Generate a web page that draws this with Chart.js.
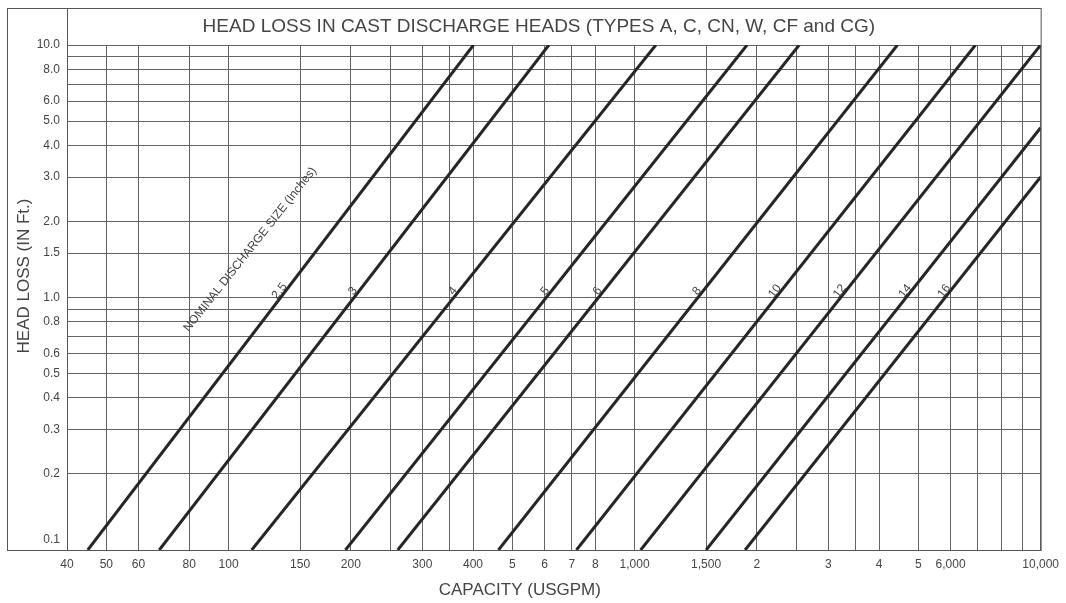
<!DOCTYPE html>
<html>
<head>
<meta charset="utf-8">
<script src="https://cdn.jsdelivr.net/npm/chart.js@4.4.1/dist/chart.umd.min.js"></script>
<style>
  html, body { margin: 0; padding: 0; background: #ffffff; }
  #wrap { width: 1066px; height: 603px; position: relative; }
</style>
</head>
<body>
<div id="wrap"><canvas id="c" width="1066" height="603"></canvas></div>
<script>
// ---- Data ----
const chartTitle = 'HEAD LOSS IN CAST DISCHARGE HEADS (TYPES A, C, CN, W, CF and CG)';
const xTitle = 'CAPACITY (USGPM)';
const yTitle = 'HEAD LOSS (IN Ft.)';
const sizeNote = 'NOMINAL DISCHARGE SIZE (Inches)';

// nominal discharge sizes (inches)
const sizes = ['2.5', '3', '4', '5', '6', '8', '10', '12', '14', '16'];
// start point of each curve (capacity USGPM, head loss ft)
const capStart  = [45, 67.5, 114, 194, 261, 462, 719, 1035, 1500, 1871];
const headStart = [0.1, 0.1, 0.1, 0.1, 0.1, 0.1, 0.1, 0.1, 0.1, 0.1];
// end point of each curve
const capEnd    = [401, 615, 1128, 1892, 2543, 4439, 6909, 10000, 10000, 10000];
const headEnd   = [10, 10, 10, 10, 10, 10, 10, 10, 4.7, 3.0];

// axis grid values and tick labels
const xGridValues = [40, 50, 60, 80, 100, 150, 200, 250, 300, 350, 400, 500, 600, 700, 800,
                     1000, 1500, 2000, 2500, 3000, 3500, 4000, 5000, 6000, 7000, 8000, 9000, 10000];
const xTickValues = [40, 50, 60, 80, 100, 150, 200, 300, 400, 500, 600, 700, 800,
                     1000, 1500, 2000, 3000, 4000, 5000, 6000, 10000];
const xTickLabels = ['40', '50', '60', '80', '100', '150', '200', '300', '400', '5', '6', '7', '8',
                     '1,000', '1,500', '2', '3', '4', '5', '6,000', '10,000'];
const yGridValues = [0.1, 0.2, 0.3, 0.4, 0.5, 0.6, 0.7, 0.8, 0.9, 1.0, 1.5, 2, 3, 4, 5, 6, 7, 8, 9, 10];
const yTickValues = [0.1, 0.2, 0.3, 0.4, 0.5, 0.6, 0.8, 1.0, 1.5, 2, 3, 4, 5, 6, 8, 10];
const yTickLabels = ['0.1', '0.2', '0.3', '0.4', '0.5', '0.6', '0.8', '1.0', '1.5', '2.0', '3.0', '4.0', '5.0', '6.0', '8.0', '10.0'];

// ---- Chart ----
const FONT = '"Liberation Sans", Arial, sans-serif';
const TEXT = '#454545';
const GRID = '#646464';
const CURVE = '#262626';
const Y_MIN = 0.1, Y_MAX = 10;

const datasets = sizes.map((s, i) => ({
  label: s,
  data: [{ x: capStart[i], y: headStart[i] }, { x: capEnd[i], y: headEnd[i] }],
  borderColor: CURVE,
  borderWidth: 3,
  pointRadius: 0,
  fill: false,
  tension: 0
}));

function labelFor(values, labels, v) {
  for (let i = 0; i < values.length; i++) {
    if (Math.abs(values[i] - v) / values[i] < 1e-6) return labels[i];
  }
  return '';
}

const decor = {
  id: 'decor',
  afterDraw(chart) {
    const { ctx, chartArea: a, scales: { x, y } } = chart;
    ctx.save();
    // outer frame (title box + y-title box)
    const fl = a.left - 60, ft = a.top - 37;
    ctx.strokeStyle = '#555';
    ctx.lineWidth = 1;
    ctx.strokeRect(fl + 0.5, ft + 0.5, a.right - fl, a.bottom - ft);
    ctx.beginPath();
    ctx.moveTo(a.left + 0.5, ft);
    ctx.lineTo(a.left + 0.5, a.bottom);
    ctx.stroke();

    // chart title
    ctx.fillStyle = TEXT;
    ctx.font = '19px ' + FONT;
    ctx.textAlign = 'center';
    ctx.textBaseline = 'middle';
    ctx.fillText(chartTitle, (a.left + a.right) / 2 - 15, ft + 19);

    // axis titles
    ctx.font = '17px ' + FONT;
    ctx.fillText(xTitle, (fl + a.right) / 2 - 4, a.bottom + 40);
    ctx.save();
    ctx.translate(fl + 17, (ft + a.bottom) / 2 - 3);
    ctx.rotate(-Math.PI / 2);
    ctx.fillText(yTitle, 0, 0);
    ctx.restore();

    // lowest y tick label sits just above the axis line
    ctx.font = '12px ' + FONT;
    ctx.textAlign = 'right';
    ctx.fillText(labelFor(yTickValues, yTickLabels, Y_MIN), a.left - 7, y.getPixelForValue(Y_MIN) - 10);
    ctx.textAlign = 'center';

    // size labels along each curve
    const labelHead = 1.06;
    const yl = y.getPixelForValue(labelHead);
    let angle = 0;
    ctx.font = '12px ' + FONT;
    sizes.forEach((s, i) => {
      const x0 = x.getPixelForValue(capStart[i]), y0 = y.getPixelForValue(headStart[i]);
      const x1 = x.getPixelForValue(capEnd[i]), y1 = y.getPixelForValue(headEnd[i]);
      const t = (yl - y0) / (y1 - y0);
      const xl = x0 + t * (x1 - x0);
      angle = Math.atan2(y1 - y0, x1 - x0);
      ctx.save();
      ctx.translate(xl - 6, yl);
      ctx.rotate(angle);
      ctx.fillText(s, 0, 0);
      ctx.restore();
    });

    // "NOMINAL DISCHARGE SIZE (Inches)" note
    ctx.save();
    ctx.font = '12px ' + FONT;
    ctx.translate(x.getPixelForValue(113), y.getPixelForValue(1.55));
    ctx.rotate(angle);
    ctx.fillText(sizeNote, 0, 0);
    ctx.restore();
    ctx.restore();
  }
};

new Chart(document.getElementById('c'), {
  type: 'line',
  data: { datasets },
  options: {
    responsive: false,
    animation: false,
    events: [],
    layout: { padding: { top: 45, right: 24, bottom: 0, left: 0 } },
    plugins: { legend: { display: false }, tooltip: { enabled: false }, title: { display: false } },
    scales: {
      x: {
        type: 'logarithmic',
        min: 40,
        max: 10000,
        afterBuildTicks: (sc) => { sc.ticks = xGridValues.map(v => ({ value: v })); },
        afterFit: (sc) => { sc.height = 53; },
        grid: { color: GRID, lineWidth: 1, drawTicks: false },
        border: { color: '#555', width: 1 },
        ticks: {
          autoSkip: false, maxRotation: 0, minRotation: 0, padding: 7,
          color: TEXT, font: { family: FONT, size: 12 },
          callback: (v) => labelFor(xTickValues, xTickLabels, v)
        }
      },
      y: {
        type: 'logarithmic',
        min: Y_MIN,
        max: Y_MAX,
        afterBuildTicks: (sc) => { sc.ticks = yGridValues.map(v => ({ value: v })); },
        afterFit: (sc) => { sc.width = 67; },
        grid: { color: GRID, lineWidth: 1, drawTicks: false },
        border: { color: '#555', width: 1 },
        ticks: {
          autoSkip: false, padding: 7,
          color: TEXT, font: { family: FONT, size: 12 },
          callback: (v) => (v === Y_MIN ? '' : labelFor(yTickValues, yTickLabels, v))
        }
      }
    }
  },
  plugins: [decor]
});
</script>
</body>
</html>
